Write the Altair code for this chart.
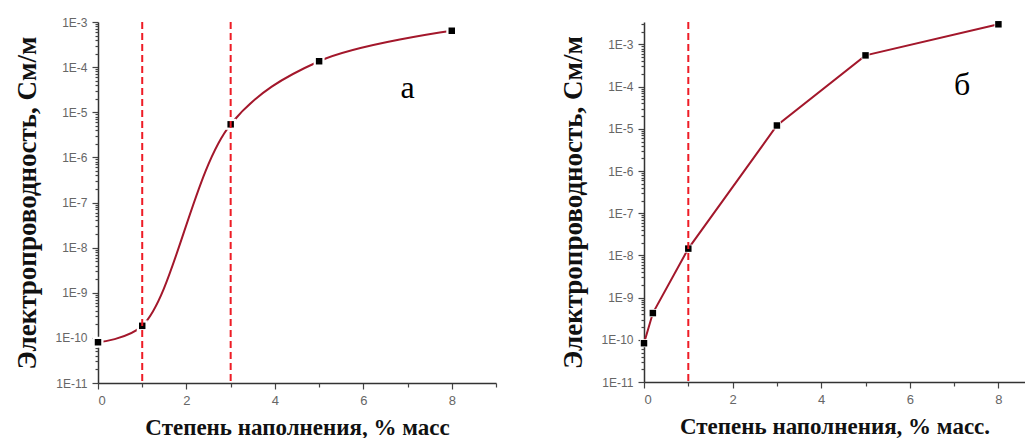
import altair as alt
import pandas as pd

# ---- data ----
a_x = [0, 1, 3, 5, 8]
a_y = [8.0e-11, 1.85e-10, 5.4e-6, 1.35e-4, 6.4e-4]
a_vlines = [1, 3]

b_x = [0, 0.2, 1, 3, 5, 8]
b_y = [8.3e-11, 4.3e-10, 1.45e-8, 1.2e-5, 5.5e-4, 3.0e-3]
b_vlines = [1]

y_title = "Электропроводность, См/м"
a_xtitle = "Степень наполнения, % масс"
b_xtitle = "Степень наполнения, % масс."
a_tag, a_tag_x, a_tag_y = "а", 7.0, 3.5e-5
b_tag, b_tag_x, b_tag_y = "б", 7.18, 1.07e-4

LINE = "#a3172b"
DASH = "#ee1c25"


def decades(vmax):
    return [float(f"1e{e}") for e in range(-11, -1) if float(f"1e{e}") <= vmax * 1.0001]


def minors(vmax):
    vals = []
    for e in range(-11, -1):
        for m in range(2, 10):
            v = float(f"{m}e{e}")
            if v <= vmax * 1.0001:
                vals.append(v)
    return vals


def panel(xs, ys, vlines, xtitle, tag, tx, ty, xmax, xmaj, xmin, ymax, width, height, halo, interp):
    df = pd.DataFrame({"x": xs, "y": ys})
    xscale = alt.Scale(domain=[0, xmax], nice=False, zero=False)
    yscale = alt.Scale(type="log", domain=[1e-11, ymax], nice=False)
    xaxis = alt.Axis(
        orient="bottom",
        values=xmaj,
        format="d",
        tickSize=6,
        title=xtitle,
        titleFontSize=23,
        titlePadding=9,
        labelPadding=5,
        labelFontSize=13,
    )
    yaxis = alt.Axis(
        orient="left",
        values=decades(ymax),
        labelExpr="'1E' + round(log(datum.value)/LN10)",
        tickSize=6,
        title=y_title,
        titleFontSize=27,
        titlePadding=13,
        labelPadding=5,
        labelFontSize=12,
        labelOverlap=False,
    )
    xaxis_m = alt.Axis(orient="bottom", values=xmin, labels=False, domain=False,
                       tickSize=4, title=None)
    yaxis_m = alt.Axis(orient="left", values=minors(ymax), labels=False, domain=False,
                       tickSize=3, title=None)
    xn = alt.X("x:Q", scale=xscale, axis=None)
    yn = alt.Y("y:Q", scale=yscale, axis=None)

    line = alt.Chart(df).mark_line(
        interpolate=interp, color=LINE, strokeWidth=2
    ).encode(x=alt.X("x:Q", scale=xscale, axis=xaxis), y=alt.Y("y:Q", scale=yscale, axis=yaxis))
    minor = alt.Chart(df).mark_point(opacity=0).encode(
        x=alt.X("x:Q", scale=xscale, axis=xaxis_m), y=alt.Y("y:Q", scale=yscale, axis=yaxis_m)
    )
    halo_l = alt.Chart(df).mark_square(size=halo, color="white", opacity=1).encode(x=xn, y=yn)
    marks = alt.Chart(df).mark_square(size=42, color="black", opacity=1).encode(x=xn, y=yn)
    rules = alt.Chart(pd.DataFrame({"x": vlines})).mark_rule(
        color=DASH, strokeWidth=2, strokeDash=[7, 4]
    ).encode(x=xn)
    txt = alt.Chart(pd.DataFrame({"x": [tx], "y": [ty], "t": [tag]})).mark_text(
        font="Liberation Serif", fontSize=32, color="black", align="center", baseline="middle"
    ).encode(x=xn, y=yn, text="t:N")
    return alt.layer(line, minor, halo_l, marks, rules, txt).resolve_axis(
        x="independent", y="independent"
    ).properties(width=width, height=height)


pa = panel(a_x, a_y, a_vlines, a_xtitle, a_tag, a_tag_x, a_tag_y,
           9, [0, 2, 4, 6, 8], [1, 3, 5, 7, 9], 1e-3, 398, 361, 121, "catmull-rom")
pb = panel(b_x, b_y, b_vlines, b_xtitle, b_tag, b_tag_x, b_tag_y,
           8.6, [0, 2, 4, 6, 8], [1, 3, 5, 7], 3.4e-3, 381, 360, 64, "linear")

chart = alt.hconcat(pa, pb, spacing=148, bounds="flush").properties(
    padding={"top": 8, "left": 5, "right": 0, "bottom": 0}
).configure_view(stroke=None).configure_axis(
    grid=False,
    domainColor="#333333",
    domainWidth=1.5,
    tickColor="#444444",
    tickWidth=1.2,
    labelColor="#666666",
    labelFont="Liberation Sans",
    titleFont="Liberation Serif",
    titleFontWeight="bold",
    titleColor="#111111",
    zindex=1,
)

chart.save("out.html", embed_options={"renderer": "svg", "actions": False})
